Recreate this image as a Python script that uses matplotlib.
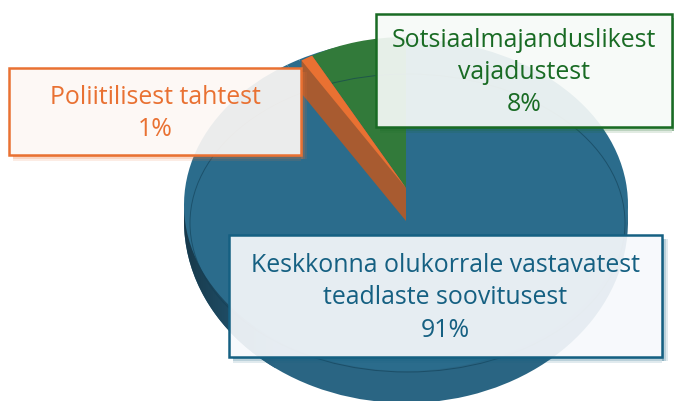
import numpy as np
import matplotlib
matplotlib.use("Agg")
import matplotlib.pyplot as plt
from matplotlib.colors import LinearSegmentedColormap
from matplotlib.patches import Rectangle, Ellipse
from matplotlib.transforms import Affine2D

plt.rcParams["font.family"] = ["Open Sans", "DejaVu Sans"]

labels = ["Sotsiaalmajanduslikest\nvajadustest", "Poliitilisest tahtest",
          "Keskkonna olukorrale vastavatest\nteadlaste soovitusest"]
values = [8, 1, 91]
pie_colors = ["#327a3a", "#e97132", "#2b6c8c"]
line_colors = ["#196b24", "#e97132", "#156082"]
box_fills = ["#f7faf8", "#fdf8f5", "#f7f9fc"]

fig = plt.figure(figsize=(6.74, 4.01), dpi=100)
ax = fig.add_axes([0, 0, 1, 1])


def pie_layer(vals, colors, cx, cy, rx, ry, z):
    wedges, _ = ax.pie(vals, colors=colors, startangle=90, counterclock=True,
                       wedgeprops={"linewidth": 0})
    for w in wedges:
        w.set_transform(Affine2D().scale(rx, -ry).translate(cx, cy) + ax.transData)
        w.set_zorder(z)
    return wedges


def rim(deg, cx, cy, rx, ry):
    a = np.radians(deg)
    return cx + rx * np.cos(a), cy - ry * np.sin(a)


# side wall of the pie, darkest on the left
pie_layer(values, ["#2a6583"] * 3, 406, 221, 222, 182, 1)
wall_cmap = LinearSegmentedColormap.from_list("wall", ["#17394b", "#1f4c64", "#2a6583"])
im = ax.imshow(np.linspace(0, 1, 100).reshape(1, -1), extent=[184, 275, 403, 180], cmap=wall_cmap,
               aspect="auto", zorder=2)
im.set_clip_path(Ellipse((406, 221), 444, 364, transform=ax.transData))

# top face
pie_layer(values, [pie_colors[2]] * 3, 406, 205, 222, 166, 3)

# raised slices
edges = 90 + np.cumsum(values) / sum(values) * 360
pie_layer(values[:1] + [sum(values[1:])], [pie_colors[0], "none"], 406, 188, 195, 151, 4)
ax.add_patch(Ellipse((407.5, 223), 435, 298, fill=False, ec="#123f55", lw=0.7, alpha=0.6, zorder=5))

x1, y1 = rim(edges[0], 406, 188, 195, 151)
x2, y2 = rim(edges[1], 406, 188, 195, 151)
ax.fill([406, x1, x2, x2, 406], [188, y1, y2, y2 + 33, 221], color="#a85b30", lw=0, zorder=6)
pie_layer(values, ["none", pie_colors[1], "none"], 406, 188, 195, 151, 7)

# label boxes
boxes = [(376, 14, 296, 113), (9, 68, 292, 87), (229, 235, 433, 122)]
for i in range(3):
    x, y, w, h = boxes[i]
    for k, a in zip([6, 4, 2], [0.13, 0.18, 0.25]):
        ax.add_patch(Rectangle((x + w, y + 4), k, h, fc=line_colors[i], ec="none", alpha=a, zorder=8 + i))
        ax.add_patch(Rectangle((x + 4, y + h), w - 4, k, fc=line_colors[i], ec="none", alpha=a, zorder=8 + i))
    ax.add_patch(Rectangle((x, y), w, h, fc=box_fills[i], ec="none", alpha=0.92, zorder=8 + i))
    ax.add_patch(Rectangle((x, y), w, h, fill=False, ec=line_colors[i], lw=1.8, zorder=8 + i))
    ax.text(x + w / 2, y + h / 2 + 2, f"{labels[i]}\n{values[i]}%", color=line_colors[i], fontsize=17.9,
            ha="center", va="center", linespacing=1.38, zorder=12)

ax.set_aspect("auto")
ax.set_xlim(0, 674)
ax.set_ylim(401, 0)
ax.axis("off")
fig.savefig("out.png", dpi=100)
